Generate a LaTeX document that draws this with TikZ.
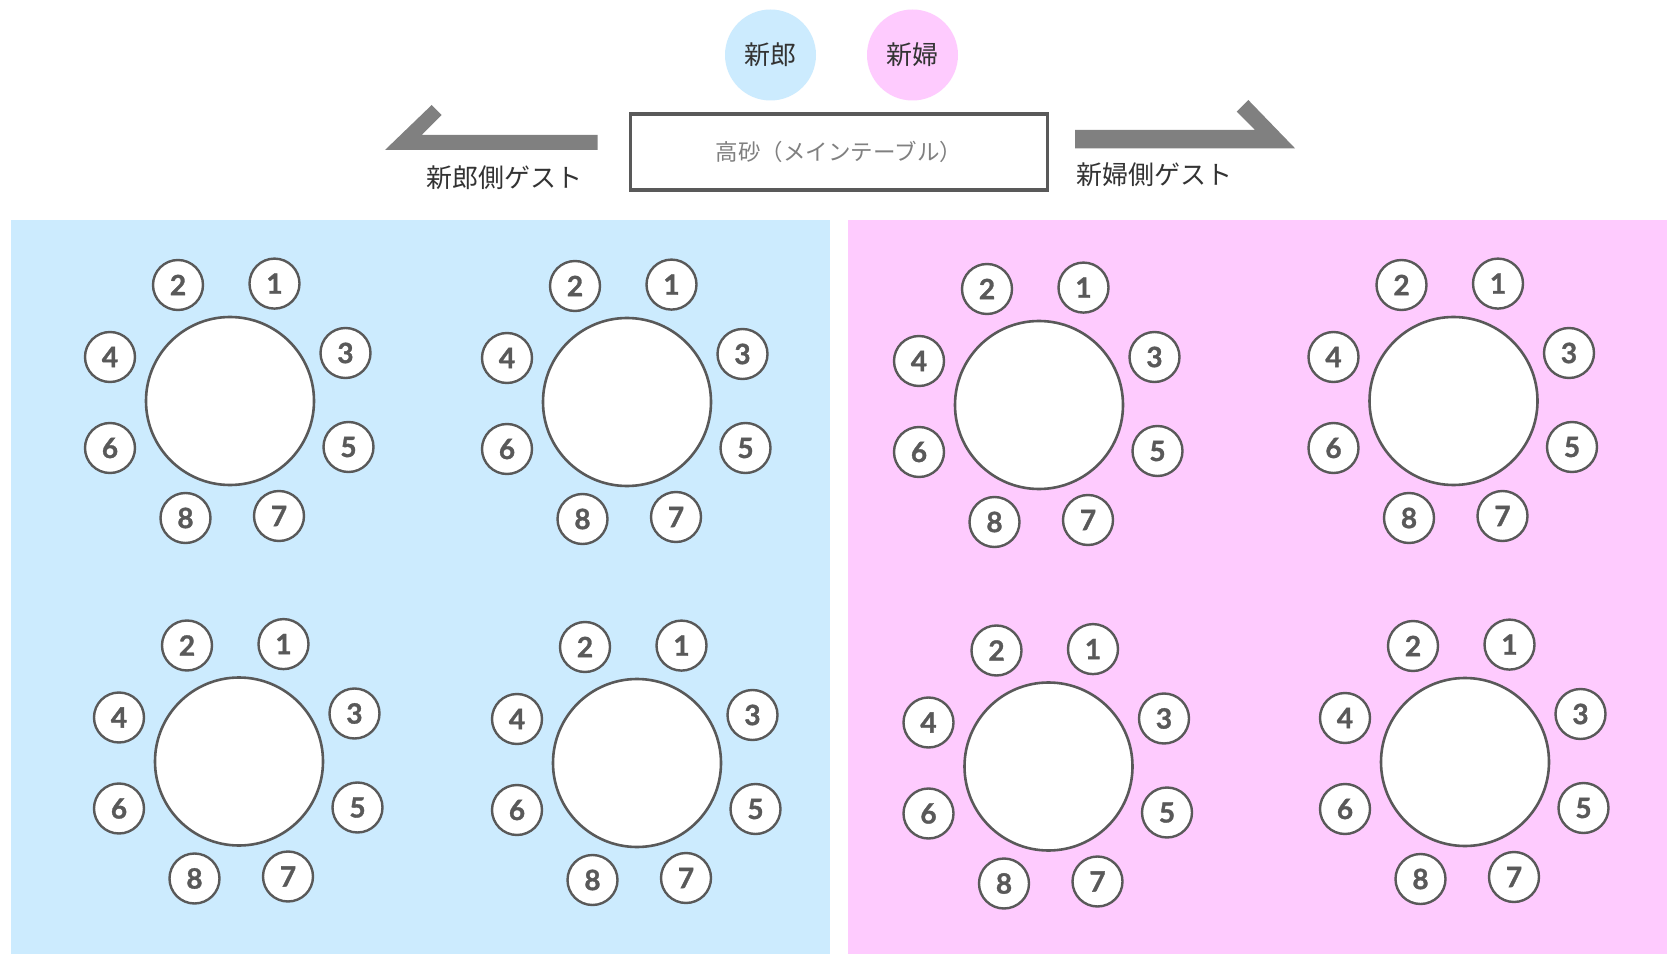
\documentclass[tikz,border=0pt]{standalone}
\usepackage{fontspec}
\newfontfamily\jpfont{Noto Sans CJK JP}
\newfontfamily\numfont{Lato}[BoldFeatures={FakeBold=1.2}]
\definecolor{guestblue}{HTML}{CCEBFE}
\definecolor{guestpink}{HTML}{FECBFE}
\definecolor{linegray}{HTML}{595959}
\definecolor{arrowgray}{HTML}{808080}
\definecolor{textdark}{HTML}{333333}
\tikzset{
  bigtable/.style={circle, draw=linegray, line width=2.6pt, fill=white, minimum size=168pt, inner sep=0pt},
  seat/.style={circle, draw=linegray, line width=2.4pt, fill=white, minimum size=50pt, inner sep=0pt,
    font=\numfont\bfseries\fontsize{28}{28}\selectfont, text=linegray},
  couple/.style={circle, minimum size=91pt, inner sep=0pt, font=\jpfont\fontsize{26}{26}\selectfont, text=textdark},
  sidelabel/.style={inner sep=0pt, font=\jpfont\fontsize{26}{26}\selectfont, text=textdark},
  mainbox/.style={draw=linegray, line width=3.2pt, fill=white, minimum width=417pt, minimum height=76pt,
    inner sep=0pt, font=\jpfont\fontsize{22.5}{22.5}\selectfont, text=arrowgray},
  halfarrow/.style={fill=arrowgray, draw=none}
}
\newcommand\roundtable[3]{%
  \node[bigtable] (#1) at (#2,#3) {};
  \node[seat] (#1-1) at (#2+44.5,#3-117.4) {1};
  \node[seat] (#1-2) at (#2-52,#3-116) {2};
  \node[seat] (#1-3) at (#2+115.5,#3-48) {3};
  \node[seat] (#1-4) at (#2-120,#3-44) {4};
  \node[seat] (#1-5) at (#2+118.5,#3+46) {5};
  \node[seat] (#1-6) at (#2-120,#3+47) {6};
  \node[seat] (#1-7) at (#2+49,#3+115) {7};
  \node[seat] (#1-8) at (#2-44.5,#3+117) {8};
}
\begin{document}
\begin{tikzpicture}[x=1pt,y=-1pt]
  \useasboundingbox[fill=white] (0,0) rectangle (1679,965);
  % side panels
  \fill[guestblue] (11,220) rectangle (830,954);
  \fill[guestpink] (848,220) rectangle (1667,954);
  % couple
  \node[couple, fill=guestblue] (groom) at (770.5,55) {新郎};
  \node[couple, fill=guestpink] (bride) at (912.5,55) {新婦};
  % main table
  \node[mainbox] (main) at (839,152) {高砂（メインテーブル）};
  % half arrows
  \fill[halfarrow] (385,150) -- (431.7,105) -- (441.7,115) -- (421.7,135) -- (597.7,135) -- (597.7,150) -- cycle;
  \fill[halfarrow] (1075,130) -- (1255,130) -- (1236.7,111.7) -- (1248.3,100) -- (1295,148.3) -- (1075,148.3) -- cycle;
  \node[sidelabel] (groomguests) at (504,178) {新郎側ゲスト};
  \node[sidelabel] (brideguests) at (1154,175) {新婦側ゲスト};
  % tables
  \roundtable{t1}{230}{401}
  \roundtable{t2}{627}{402}
  \roundtable{t3}{1039}{405}
  \roundtable{t4}{1453.5}{401}
  \roundtable{t5}{239}{761.5}
  \roundtable{t6}{637}{763}
  \roundtable{t7}{1048.5}{766.5}
  \roundtable{t8}{1465}{762}
\end{tikzpicture}
\end{document}
